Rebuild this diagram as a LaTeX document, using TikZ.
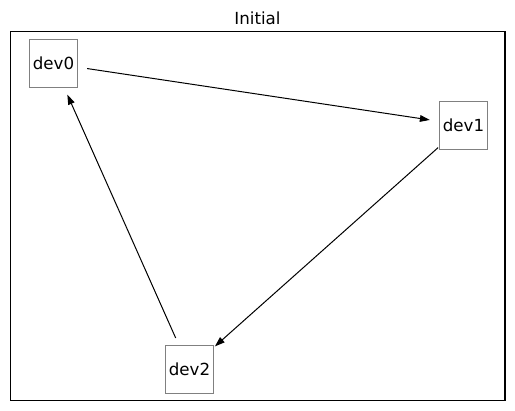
\documentclass[tikz,border=0pt]{standalone}
\usepackage{fontspec}
\setmainfont{DejaVu Sans}
\usetikzlibrary{arrows.meta}

\tikzset{
	devbox/.style={draw=gray, line width=0.75pt, fill=white, rectangle, minimum size=36pt, inner sep=0pt, font=\fontsize{12.5}{15}\selectfont},
	link/.style={line width=0.75pt, -{Triangle[length=7.5pt,width=5pt]}, shorten <=25.5pt, shorten >=25.5pt}
}

\begin{document}
\begin{tikzpicture}[x=0.75pt,y=0.75pt,yscale=-1,xscale=1]
	\useasboundingbox (0,0) rectangle (515,411);

	% Title
	\node (title) at (257.5,18) [font=\fontsize{12.5}{15}\selectfont] {Initial};
	% Axes frame
	\draw [line width=0.8pt] (10.5,31.5) rectangle (505,400.5);

	% Devices
	\node (dev0) at (53.5,63.5) [devbox] {dev0};
	\node (dev1) at (463.5,125) [devbox] {dev1};
	\node (dev2) at (189.5,369) [devbox] {dev2};

	% Links
	\draw [link] (dev0.center) -- (dev1.center);
	\draw [link] (dev1.center) -- (dev2.center);
	\draw [link] (dev2.center) -- (dev0.center);

\end{tikzpicture}
\end{document}
